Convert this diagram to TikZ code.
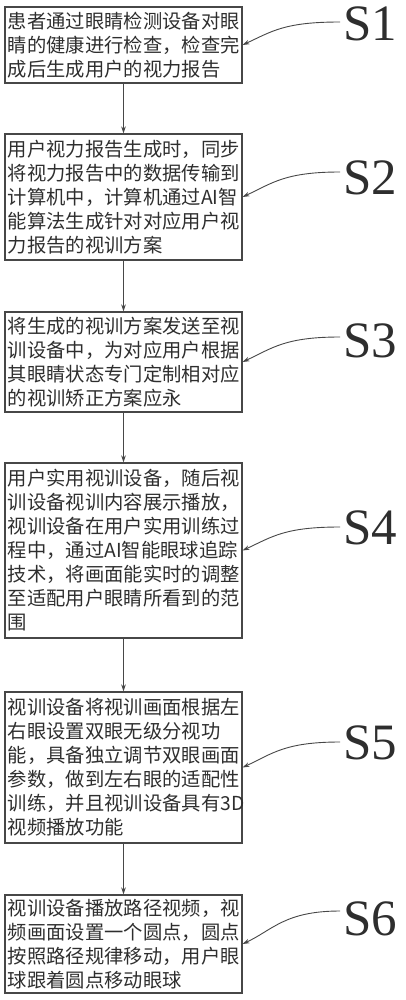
\documentclass[tikz,border=0pt]{standalone}
\usepackage{fontspec}
\setmainfont{Liberation Serif}
\newfontfamily\cjk{Noto Sans CJK SC}
\usetikzlibrary{arrows.meta}
\definecolor{ink}{gray}{0.18}
\definecolor{edge}{gray}{0.28}
\tikzset{
  stepbox/.style={draw=edge, line width=1.1pt, text=ink, text width=231pt, inner xsep=3pt, inner ysep=2pt,
    align=left, font=\cjk\fontsize{19.3}{24}\selectfont, anchor=center},
  flow/.style={draw=edge, line width=0.9pt, -{Stealth[length=7pt,width=4.5pt]}},
  lead/.style={draw=edge, line width=0.9pt, -{Stealth[length=7pt,width=4.5pt]}},
  slabel/.style={text=ink, font=\fontsize{51}{51}\selectfont, inner sep=0pt, anchor=west}
}
\begin{document}
\begin{tikzpicture}[x=1pt,y=-1pt]
\useasboundingbox (0,0) rectangle (405,1000);

\node[stepbox, minimum height=76pt] (b1) at (123.5,45) {患者通过眼睛检测设备对眼\\睛的健康进行检查，检查完\\成后生成用户的视力报告};
\node[stepbox, minimum height=126pt] (b2) at (123.5,197) {用户视力报告生成时，同步\\将视力报告中的数据传输到\\计算机中，计算机通过AI智\\能算法生成针对对应用户视\\力报告的视训方案};
\node[stepbox, minimum height=100pt] (b3) at (123.5,362) {将生成的视训方案发送至视\\训设备中，为对应用户根据\\其眼睛状态专门定制相对应\\的视训矫正方案应永};
\node[stepbox, minimum height=175pt] (b4) at (123.5,550.5) {用户实用视训设备，随后视\\训设备视训内容展示播放，\\视训设备在用户实用训练过\\程中，通过AI智能眼球追踪\\技术，将画面能实时的调整\\至适配用户眼睛所看到的范\\围};
\node[stepbox, minimum height=151pt] (b5) at (123.5,767.5) {视训设备将视训画面根据左\\右眼设置双眼无级分视功\\能，具备独立调节双眼画面\\参数，做到左右眼的适配性\\训练，并且视训设备具有3D\\视频播放功能};
\node[stepbox, minimum height=98pt] (b6) at (123.5,944) {视训设备播放路径视频，视\\频画面设置一个圆点，圆点\\按照路径规律移动，用户眼\\球跟着圆点移动眼球};

\draw[flow] (b1.south) -- (b2.north);
\draw[flow] (b2.south) -- (b3.north);
\draw[flow] (b3.south) -- (b4.north);
\draw[flow] (b4.south) -- (b5.north);
\draw[flow] (b5.south) -- (b6.north);

\node[slabel] (s1) at (343,24) {S1};
\node[slabel] (s2) at (343,178) {S2};
\node[slabel] (s3) at (343,341) {S3};
\node[slabel] (s4) at (343,527.5) {S4};
\node[slabel] (s5) at (343,742.5) {S5};
\node[slabel] (s6) at (343,919) {S6};

\coordinate (c1) at (340,22);
\coordinate (c2) at (340,172);
\coordinate (c3) at (340,337);
\coordinate (c4) at (340,527);
\coordinate (c5) at (340,742);
\coordinate (c6) at (340,911);

\draw[lead] (c1) .. controls +(-55,0) and +(30,-14) .. (b1.east);
\draw[lead] (c2) .. controls +(-55,0) and +(30,-14) .. (b2.east);
\draw[lead] (c3) .. controls +(-55,0) and +(30,-14) .. (b3.east);
\draw[lead] (c4) .. controls +(-55,0) and +(30,-14) .. (b4.east);
\draw[lead] (c5) .. controls +(-55,0) and +(30,-14) .. (b5.east);
\draw[lead] (c6) .. controls +(-55,0) and +(30,-14) .. (b6.east);
\end{tikzpicture}
\end{document}
